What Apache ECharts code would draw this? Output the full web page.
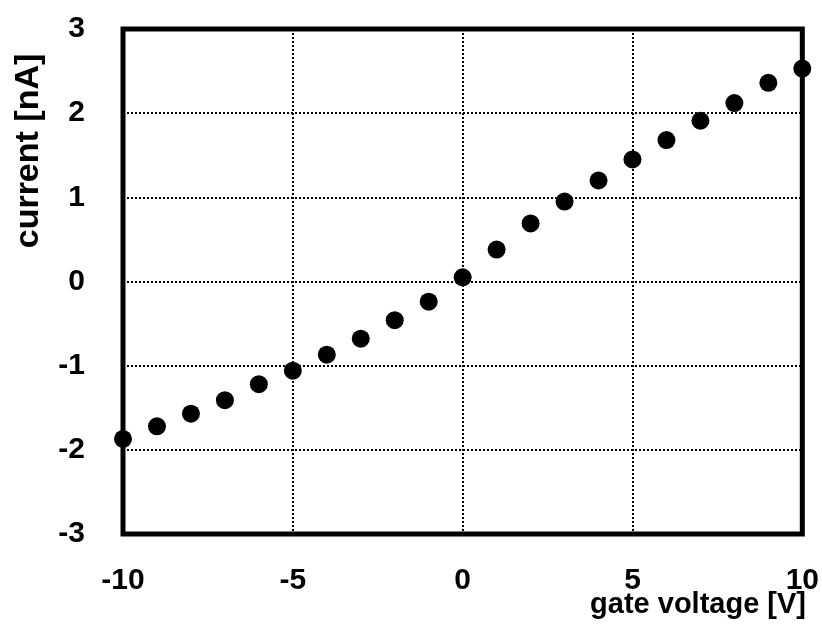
<!DOCTYPE html>
<html>
<head>
<meta charset="utf-8">
<script src="https://cdn.jsdelivr.net/npm/echarts@6/dist/echarts.min.js"></script>
<style>html,body{margin:0;padding:0;background:#fff;}#c{width:822px;height:637px;}</style>
</head>
<body>
<div id="c"></div>
<script>
const gateVoltage = [-10,-9,-8,-7,-6,-5,-4,-3,-2,-1,0,1,2,3,4,5,6,7,8,9,10];
const current = [-1.87,-1.72,-1.57,-1.41,-1.22,-1.06,-0.87,-0.68,-0.46,-0.24,0.05,0.38,0.69,0.95,1.20,1.45,1.68,1.91,2.12,2.36,2.53];
const xTicks = {min:-10, max:10, interval:5};
const yTicks = {min:-3, max:3, interval:1};
const xTitle = 'gate voltage [V]';
const yTitle = 'current [nA]';

const chart = echarts.init(document.getElementById('c'), null, {renderer:'canvas'});
const labelFont = {color:'#000', fontSize:30, fontWeight:'bold', fontFamily:'Liberation Sans, Arial, sans-serif'};
const grid = {left:123, right:15, top:29, bottom:103, show:true, borderColor:'#000', borderWidth:5, backgroundColor:'transparent'};
chart.setOption({
  animation:false,
  backgroundColor:'#fff',
  grid: grid,
  xAxis: {
    type:'value', min:xTicks.min, max:xTicks.max, interval:xTicks.interval,
    axisLine:{show:false}, axisTick:{show:false},
    splitLine:{show:true, lineStyle:{color:'#000', width:2, type:[2,2]}},
    axisLabel:Object.assign({margin:32}, labelFont)
  },
  yAxis: {
    type:'value', min:yTicks.min, max:yTicks.max, interval:yTicks.interval,
    axisLine:{show:false}, axisTick:{show:false},
    splitLine:{show:true, lineStyle:{color:'#000', width:2, type:[2,2]}},
    axisLabel:Object.assign({margin:38}, labelFont)
  },
  graphic: [
    {type:'text', right:16, top:590, style:{text:xTitle, fill:'#000', font:'bold 29px "Liberation Sans", Arial, sans-serif', textAlign:'right'}},
    {type:'text', x:29, y:151, rotation:Math.PI/2, style:{text:yTitle, fill:'#000', font:'bold 34px "Liberation Sans", Arial, sans-serif', textAlign:'center', textVerticalAlign:'middle'}}
  ],
  series: [{
    type:'scatter',
    data: gateVoltage.map((v,i)=>[v, current[i]]),
    symbol:'circle', symbolSize:18,
    itemStyle:{color:'#000', opacity:1},
    z:5
  }]
});
</script>
</body>
</html>
